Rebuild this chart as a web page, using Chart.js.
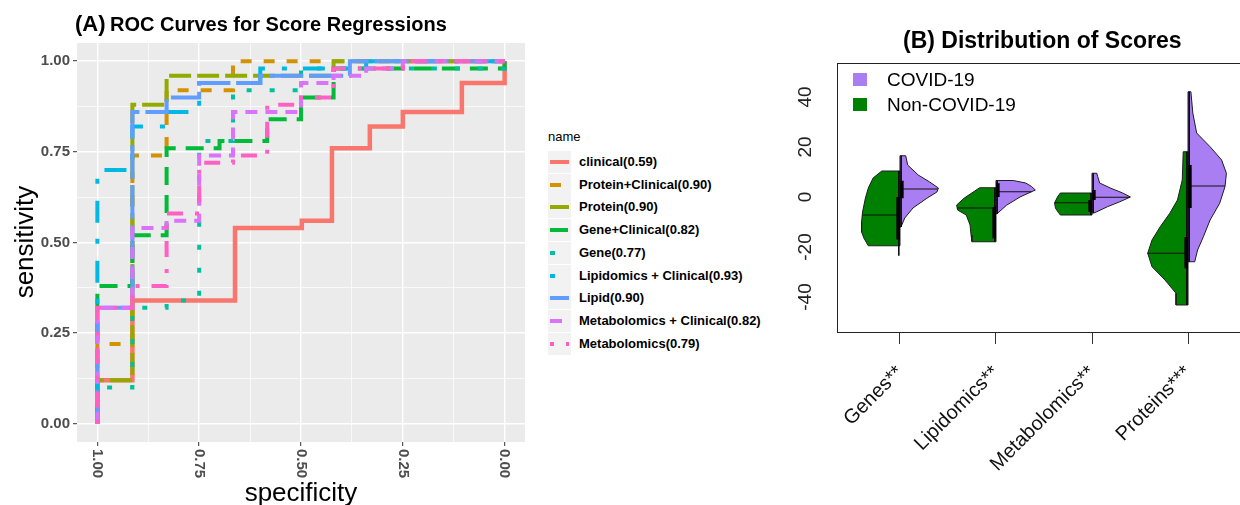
<!doctype html>
<html lang="en">
<head>
<meta charset="utf-8">
<title>ROC curves and score distributions</title>
<style>
  html, body { margin: 0; padding: 0; background: #fff; overflow: hidden; }
  body { width: 1240px; height: 505px; position: relative; font-family: "Liberation Sans", Arial, sans-serif; }
  #rocWrap { position: absolute; left: 0; top: 0; }
  #violinWrap { position: absolute; left: 780px; top: 0; }
  .txt { position: absolute; white-space: nowrap; color: #000; }
  .key { position: absolute; left: 548px; width: 23px; height: 22px; background: #F2F2F2; }
  .sw { position: absolute; left: 2px; top: 9px; width: 19px; height: 4px; }
  .lab { position: absolute; left: 579px; font-weight: bold; font-size: 13px; line-height: 16px; }
  .sq { position: absolute; width: 14px; height: 13px; }
</style>
</head>
<body>
  <div id="rocWrap"><canvas id="roc" width="540" height="505"></canvas></div>
  <div id="violinWrap"><canvas id="violin" width="480" height="505"></canvas></div>

  <div class="txt" style="left:75px; top:11px; font-weight:bold; line-height:26px;">
    <span style="font-size:22px">(A)</span> <span style="font-size:20px">ROC Curves for Score Regressions</span>
  </div>
  <div class="txt" style="left:903px; top:27px; font-weight:bold; font-size:23px; line-height:26px;">(B) Distribution of Scores</div>
  <div class="txt" style="left:-36px; top:229px; width:120px; text-align:center; font-size:26px; line-height:26px; transform:rotate(-90deg);">sensitivity</div>
  <div class="txt" style="left:201px; top:479px; width:200px; text-align:center; font-size:26px; line-height:26px;">specificity</div>
  <div class="txt" style="left:548px; top:129px; font-size:13px; line-height:16px;">name</div>
  <div id="rocLegend"></div>

  <div class="sq" style="left:853px; top:73px; background:#A87EF2;"></div>
  <div class="txt" style="left:887px; top:69px; font-size:19px; line-height:22px;">COVID-19</div>
  <div class="sq" style="left:853px; top:98px; background:#008000;"></div>
  <div class="txt" style="left:887px; top:94px; font-size:19px; line-height:22px;">Non-COVID-19</div>

  <script src="https://cdn.jsdelivr.net/npm/chart.js@4.4.1/dist/chart.umd.min.js"></script>
  <script>
  // ---- panel A: ROC curves (specificity, sensitivity corner points) ----
  const rocNames = ['clinical(0.59)', 'Protein+Clinical(0.90)', 'Protein(0.90)', 'Gene+Clinical(0.82)', 'Gene(0.77)',
                    'Lipidomics + Clinical(0.93)', 'Lipid(0.90)', 'Metabolomics + Clinical(0.82)', 'Metabolomics(0.79)'];

  const specClinical = [1, 1, 0.914, 0.914, 0.662, 0.662, 0.498, 0.498, 0.424, 0.424, 0.331, 0.331, 0.25, 0.25, 0.105, 0.105, 0, 0];
  const sensClinical = [0, 0.12, 0.12, 0.34, 0.34, 0.54, 0.54, 0.56, 0.56, 0.76, 0.76, 0.82, 0.82, 0.86, 0.86, 0.94, 0.94, 1];

  const specProtClin = [1, 1, 0.914, 0.914, 0.83, 0.83, 0.667, 0.667, 0];
  const sensProtClin = [0, 0.22, 0.22, 0.74, 0.74, 0.92, 0.92, 1, 1];

  const specProtein = [1, 1, 0.914, 0.914, 0.83, 0.83, 0.42, 0.42, 0];
  const sensProtein = [0, 0.12, 0.12, 0.88, 0.88, 0.96, 0.96, 1, 1];

  const specGeneClin = [1, 1, 0.914, 0.914, 0.83, 0.83, 0.70, 0.70, 0.583, 0.583, 0.50, 0.50, 0.42, 0.42, 0, 0];
  const sensGeneClin = [0, 0.38, 0.38, 0.52, 0.52, 0.76, 0.76, 0.78, 0.78, 0.84, 0.84, 0.90, 0.90, 0.98, 0.98, 1];

  const specGene = [1, 1, 0.914, 0.914, 0.83, 0.83, 0.75, 0.75, 0.667, 0.667, 0.50, 0.50, 0, 0];
  const sensGene = [0, 0.10, 0.10, 0.32, 0.32, 0.34, 0.34, 0.78, 0.78, 0.92, 0.92, 0.98, 0.98, 1];

  const specLipClin = [1, 1, 0.914, 0.914, 0.83, 0.83, 0.75, 0.75, 0.60, 0.60, 0.34, 0.34, 0];
  const sensLipClin = [0, 0.70, 0.70, 0.82, 0.82, 0.86, 0.86, 0.94, 0.94, 0.98, 0.98, 1, 1];

  const specLipid = [1, 1, 0.914, 0.914, 0.83, 0.83, 0.75, 0.75, 0.60, 0.60, 0.38, 0.38, 0];
  const sensLipid = [0, 0.32, 0.32, 0.86, 0.86, 0.90, 0.90, 0.94, 0.94, 0.96, 0.96, 1, 1];

  const specMetClin = [1, 1, 0.914, 0.914, 0.83, 0.83, 0.75, 0.75, 0.667, 0.667, 0.50, 0.50, 0.42, 0.42, 0.34, 0.34, 0.25, 0.25, 0];
  const sensMetClin = [0, 0.32, 0.32, 0.54, 0.54, 0.56, 0.56, 0.74, 0.74, 0.86, 0.86, 0.94, 0.94, 0.96, 0.96, 0.98, 0.98, 1, 1];

  const specMetab = [1, 1, 0.914, 0.914, 0.83, 0.83, 0.75, 0.75, 0.667, 0.667, 0.583, 0.583, 0.50, 0.50, 0.42, 0.42, 0.25, 0.25, 0];
  const sensMetab = [0, 0.32, 0.32, 0.38, 0.38, 0.58, 0.58, 0.72, 0.72, 0.74, 0.74, 0.88, 0.88, 0.90, 0.90, 0.98, 0.98, 1, 1];

  const rocSpec = [specClinical, specProtClin, specProtein, specGeneClin, specGene, specLipClin, specLipid, specMetClin, specMetab];
  const rocSens = [sensClinical, sensProtClin, sensProtein, sensGeneClin, sensGene, sensLipClin, sensLipid, sensMetClin, sensMetab];
  const rocTicks = [0, 0.25, 0.5, 0.75, 1];

  const rocColors = ['#F8766D', '#D39200', '#93AA00', '#00BA38', '#00C19F', '#00B9E3', '#619CFF', '#DB72FB', '#FF61C3'];
  const rocDashes = [[], [11, 12], [22, 6], [18, 10], [5, 18], [5, 16, 22, 17], [34, 6], [12, 8], [4, 12, 16, 12]];

  // ---- panel B: split violins (y = score, w = half width of density) ----
  const groupNames = ['Genes**', 'Lipidomics**', 'Metabolomics**', 'Proteins***'];

  const nonCovidY = [
    [10.4, 7.6, 3.6, -0.4, -6, -10, -14, -16.5, -19.5],
    [3.7, -0.4, -3.2, -5.2, -7.2, -11.2, -15.2, -17.9],
    [1.6, 0, -2.4, -4.5, -6.2, -7.2],
    [18.1, 6.8, -1.2, -6.5, -11.9, -17.2, -22.5, -27.9, -33.2, -38.5, -43.2]
  ];
  const nonCovidW = [
    [0.19, 0.28, 0.33, 0.36, 0.39, 0.40, 0.40, 0.375, 0.33],
    [0.17, 0.33, 0.41, 0.40, 0.31, 0.27, 0.26, 0.25],
    [0.33, 0.36, 0.39, 0.38, 0.35, 0.33],
    [0.05, 0.06, 0.11, 0.19, 0.29, 0.375, 0.42, 0.375, 0.24, 0.125, 0.125]
  ];
  const covidY = [
    [16.5, 12.8, 8.8, 6, 3.6, 2, -0.5, -4.4, -8.4, -12],
    [6.6, 5.6, 4.2, 2.8, 0, -3.3, -6.7],
    [9.5, 8.1, 5.6, 3.6, 1.6, 0, -1.9, -3.9, -5.9, -6.4],
    [42.1, 33.6, 25.6, 20.1, 14.8, 9.5, 4.1, -2.5, -9.2, -15.9, -21.2, -25.9]
  ];
  const covidW = [
    [0.06, 0.08, 0.19, 0.31, 0.40, 0.385, 0.28, 0.135, 0.05, 0.01],
    [0.18, 0.31, 0.37, 0.41, 0.25, 0.11, 0.01],
    [0.05, 0.06, 0.08, 0.19, 0.32, 0.40, 0.29, 0.16, 0.05, 0.02],
    [0.03, 0.05, 0.09, 0.23, 0.35, 0.40, 0.385, 0.33, 0.23, 0.16, 0.10, 0.07]
  ];
  const nonCovidMedian = [-7.2, -4.4, -2.3, -22.5];
  const covidMedian = [3.2, 2.1, -0.1, 4.4];
  const nonCovidIQR = [[-17, 0], [-16.5, -4], [-6, -1.2], [-28.5, -16]];
  const covidIQR = [[-0.5, 6.5], [0, 5.5], [-1.2, 2.8], [-4.4, 12.8]];
  const nonCovidRange = [[-23.5, 10.4], [-17.9, 3.7], [-7.2, 1.6], [-43.2, 18.1]];
  const covidRange = [[-12, 16.5], [-6.7, 6.6], [-6.4, 9.5], [-25.9, 42.1]];
  const scoreTicks = [-40, -20, 0, 20, 40];

  const covidColor = '#A87EF2';
  const nonCovidColor = '#008000';
  const FONT = '"Liberation Sans", Arial, sans-serif';

  // ---------- panel A ----------
  const minorGrid = [0, 0.125, 0.25, 0.375, 0.5, 0.625, 0.75, 0.875, 1];
  const isMajor = v => Math.abs(v * 4 - Math.round(v * 4)) < 1e-6;

  const panelBg = {
    id: 'panelBg',
    beforeDraw(chart) {
      const a = chart.chartArea, ctx = chart.ctx;
      ctx.save();
      ctx.fillStyle = '#EBEBEB';
      ctx.fillRect(a.left, a.top, a.right - a.left, a.bottom - a.top);
      ctx.restore();
    }
  };

  const rotatedSpecLabels = {
    id: 'rotatedSpecLabels',
    afterDraw(chart) {
      const sx = chart.scales.x, ctx = chart.ctx;
      ctx.save();
      ctx.font = 'bold 15px ' + FONT;
      ctx.fillStyle = '#4D4D4D';
      ctx.textAlign = 'left';
      ctx.textBaseline = 'middle';
      rocTicks.forEach(v => {
        ctx.save();
        ctx.translate(sx.getPixelForValue(v), chart.chartArea.bottom + 7);
        ctx.rotate(Math.PI / 2);
        ctx.fillText(v.toFixed(2), 0, 0);
        ctx.restore();
      });
      ctx.restore();
    }
  };

  const gridOpts = {
    color: '#FFFFFF',
    lineWidth: c => (c.tick && isMajor(c.tick.value)) ? 1.4 : 0.7,
    tickColor: c => (c.tick && isMajor(c.tick.value)) ? '#333333' : 'rgba(0,0,0,0)',
    tickLength: 4,
    tickWidth: 1
  };

  new Chart(document.getElementById('roc'), {
    type: 'scatter',
    data: {
      datasets: rocNames.map((name, i) => ({
        label: name,
        data: rocSpec[i].map((x, k) => ({ x: x, y: rocSens[i][k] })),
        showLine: true,
        borderColor: rocColors[i],
        borderWidth: i === 0 ? 4.5 : 4,
        borderDash: rocDashes[i],
        borderCapStyle: 'butt',
        borderJoinStyle: 'miter',
        pointRadius: 0,
        tension: 0,
        fill: false,
        order: rocNames.length - i
      }))
    },
    options: {
      responsive: false,
      animation: false,
      devicePixelRatio: 1,
      events: [],
      layout: { padding: { top: 43, right: 15, left: 0, bottom: 0 } },
      plugins: { legend: { display: false }, tooltip: { enabled: false } },
      scales: {
        x: {
          type: 'linear', reverse: true, min: -0.05, max: 1.05,
          afterBuildTicks: s => { s.ticks = minorGrid.map(v => ({ value: v })); },
          afterFit: s => { s.height = 63; },
          ticks: { display: false },
          grid: gridOpts,
          border: { display: false }
        },
        y: {
          type: 'linear', min: -0.05, max: 1.05,
          afterBuildTicks: s => { s.ticks = minorGrid.map(v => ({ value: v })); },
          afterFit: s => { s.width = 77; },
          ticks: {
            callback: v => isMajor(v) ? v.toFixed(2) : '',
            color: '#4D4D4D', padding: 3,
            font: { family: FONT, weight: 'bold', size: 15 }
          },
          grid: gridOpts,
          border: { display: false }
        }
      }
    },
    plugins: [panelBg, rotatedSpecLabels]
  });

  // legend for panel A
  function dashBackground(color, dash) {
    if (!dash.length) return color;
    let pos = 0;
    const stops = dash.map((len, i) => {
      const c = i % 2 === 0 ? color : 'rgba(0,0,0,0)';
      const s = `${c} ${pos}px ${pos + len}px`;
      pos += len;
      return s;
    });
    return `repeating-linear-gradient(to right, ${stops.join(', ')})`;
  }
  const legendBox = document.getElementById('rocLegend');
  rocNames.forEach((name, i) => {
    const cy = 162 + i * 22.7;
    const key = document.createElement('div');
    key.className = 'key';
    key.style.top = (cy - 11) + 'px';
    const sw = document.createElement('div');
    sw.className = 'sw';
    sw.style.background = dashBackground(rocColors[i], rocDashes[i]);
    key.appendChild(sw);
    legendBox.appendChild(key);
    const lab = document.createElement('div');
    lab.className = 'txt lab';
    lab.style.top = (cy - 8) + 'px';
    lab.textContent = name;
    legendBox.appendChild(lab);
  });

  // ---------- panel B ----------
  function widthAt(ys, ws, y) {
    for (let k = 0; k < ys.length - 1; k++) {
      const a = ys[k], b = ys[k + 1];
      if ((y <= a && y >= b) || (y >= a && y <= b)) {
        const t = (y - a) / (b - a);
        return ws[k] + t * (ws[k + 1] - ws[k]);
      }
    }
    return ws[ws.length - 1];
  }

  const violinSets = [];
  groupNames.forEach((g, i) => {
    const c = i + 1;
    [[nonCovidY[i], nonCovidW[i], -1, nonCovidColor], [covidY[i], covidW[i], 1, covidColor]].forEach(([ys, ws, side, col]) => {
      const pts = [{ x: c, y: ys[0] }];
      ys.forEach((y, k) => pts.push({ x: c + side * ws[k], y: y }));
      pts.push({ x: c, y: ys[ys.length - 1] });
      pts.push({ x: c, y: ys[0] });
      violinSets.push({
        data: pts, showLine: true, fill: 'shape', backgroundColor: col,
        borderColor: '#1E1E1E', borderWidth: 1, pointRadius: 0, tension: 0, order: 3
      });
    });
    // medians
    const wn = widthAt(nonCovidY[i], nonCovidW[i], nonCovidMedian[i]);
    const wc = widthAt(covidY[i], covidW[i], covidMedian[i]);
    violinSets.push({ data: [{ x: c - wn, y: nonCovidMedian[i] }, { x: c, y: nonCovidMedian[i] }],
      showLine: true, borderColor: '#111', borderWidth: 1, pointRadius: 0, order: 1 });
    violinSets.push({ data: [{ x: c, y: covidMedian[i] }, { x: c + wc, y: covidMedian[i] }],
      showLine: true, borderColor: '#111', borderWidth: 1, pointRadius: 0, order: 1 });
    // whiskers and boxes
    violinSets.push({ data: [{ x: c - 0.012, y: nonCovidRange[i][0] }, { x: c - 0.012, y: nonCovidRange[i][1] }],
      showLine: true, borderColor: '#000', borderWidth: 1.5, pointRadius: 0, order: 1 });
    violinSets.push({ data: [{ x: c + 0.012, y: covidRange[i][0] }, { x: c + 0.012, y: covidRange[i][1] }],
      showLine: true, borderColor: '#000', borderWidth: 1.5, pointRadius: 0, order: 1 });
    violinSets.push({ data: [{ x: c - 0.02, y: nonCovidIQR[i][0] }, { x: c - 0.02, y: nonCovidIQR[i][1] }],
      showLine: true, borderColor: '#000', borderWidth: 3.5, borderCapStyle: 'butt', pointRadius: 0, order: 0 });
    violinSets.push({ data: [{ x: c + 0.02, y: covidIQR[i][0] }, { x: c + 0.02, y: covidIQR[i][1] }],
      showLine: true, borderColor: '#000', borderWidth: 3.5, borderCapStyle: 'butt', pointRadius: 0, order: 0 });
  });

  const boxAndScoreLabels = {
    id: 'boxAndScoreLabels',
    afterDraw(chart) {
      const a = chart.chartArea, ctx = chart.ctx, sy = chart.scales.y;
      ctx.save();
      ctx.strokeStyle = '#222';
      ctx.lineWidth = 1;
      ctx.strokeRect(a.left + 0.5, a.top + 0.5, a.right - a.left, a.bottom - a.top);
      ctx.font = '19px ' + FONT;
      ctx.fillStyle = '#222';
      ctx.textAlign = 'center';
      ctx.textBaseline = 'middle';
      scoreTicks.forEach(v => {
        ctx.save();
        ctx.translate(a.left - 31, sy.getPixelForValue(v));
        ctx.rotate(-Math.PI / 2);
        ctx.fillText(String(v), 0, 0);
        ctx.restore();
      });
      ctx.restore();
    }
  };

  new Chart(document.getElementById('violin'), {
    type: 'scatter',
    data: { datasets: violinSets },
    options: {
      responsive: false,
      animation: false,
      devicePixelRatio: 1,
      events: [],
      layout: { padding: { top: 63, right: 9, left: 0, bottom: 0 } },
      plugins: { legend: { display: false }, tooltip: { enabled: false } },
      scales: {
        x: {
          type: 'linear', min: 0.344, max: 4.656,
          afterBuildTicks: s => { s.ticks = groupNames.map((g, i) => ({ value: i + 1 })); },
          afterFit: s => { s.height = 173; },
          ticks: {
            callback: v => groupNames[v - 1] || '',
            minRotation: 45, maxRotation: 45, autoSkip: false,
            color: '#111', padding: 17,
            font: { family: FONT, size: 20 }
          },
          grid: { drawOnChartArea: false, tickLength: 12, tickColor: '#333', tickWidth: 1 },
          border: { display: false }
        },
        y: {
          type: 'linear', min: -54, max: 53.6,
          afterBuildTicks: s => { s.ticks = scoreTicks.map(v => ({ value: v })); },
          afterFit: s => { s.width = 57; },
          ticks: { display: false },
          grid: { display: false },
          border: { display: false }
        }
      }
    },
    plugins: [boxAndScoreLabels]
  });
  </script>
</body>
</html>
